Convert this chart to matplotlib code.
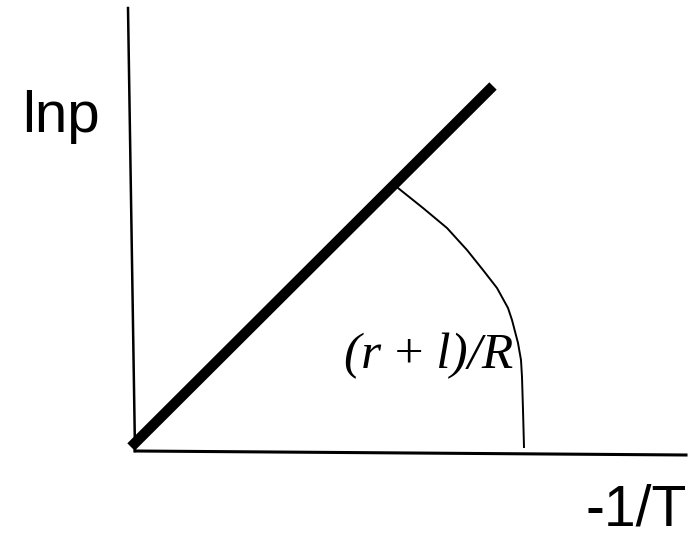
import matplotlib
matplotlib.use('Agg')
import matplotlib.pyplot as plt

# 좌표계: 원점 = 축이 만나는 점 (픽셀 단위, y 위쪽)
# 세로축 (lnp)
yaxis_x = [-5, 2]
yaxis_y = [443, 0]
# 가로축 (-1/T)
xaxis_x = [2, 553]
xaxis_y = [0, -4]
# 굵은 직선
line_x = [-2, 360]
line_y = [4, 365]
# 곡선 (r+l)/R
curve_x = [265, 290, 314, 334, 350, 364, 375, 379, 385, 388, 389, 390, 391]
curve_y = [263, 243, 223, 201, 181, 163, 143, 131, 108, 91, 74, 41, 4]

fig = plt.figure(figsize=(6.94, 5.39), dpi=100)
ax = fig.add_axes([0, 0, 1, 1])
ax.set_xlim(-133, 561)
ax.set_ylim(-88, 451)
ax.axis('off')

ax.plot(yaxis_x, yaxis_y, color='black', lw=1.8)
ax.plot(xaxis_x, xaxis_y, color='black', lw=2.2)
ax.plot(line_x, line_y, color='black', lw=7.5, solid_capstyle='butt')
ax.plot(curve_x, curve_y, color='black', lw=1.4, solid_joinstyle='round')

ax.text(-111, 319, 'lnp', fontsize=42, family='Liberation Sans',
        ha='left', va='baseline')
ax.text(453, -87, '-1/T', fontsize=41, family='Liberation Sans',
        ha='left', va='bottom')
ax.text(211, 83, '(r\u2009+\u2009l)/R', fontsize=37,
        family=['Liberation Serif', 'DejaVu Serif'],
        style='italic', ha='left', va='baseline')

fig.savefig('out.png', dpi=100)
